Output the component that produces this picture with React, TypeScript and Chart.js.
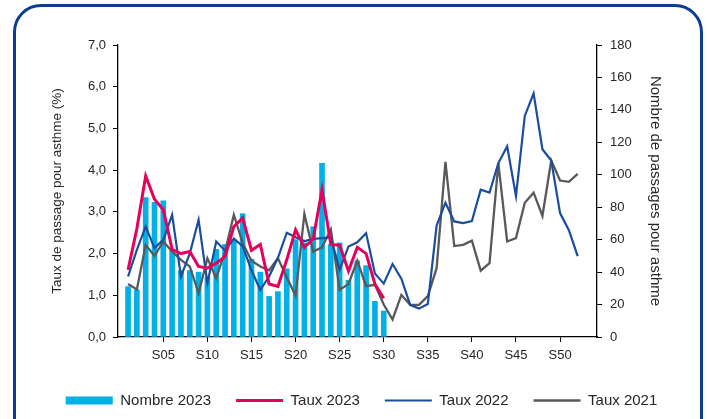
import React, { useEffect, useRef } from 'react';
import { Chart, registerables } from 'chart.js';

Chart.register(...registerables);

// Weeks S01..S52
const weeks = [
  1, 2, 3, 4, 5, 6, 7, 8, 9, 10, 11, 12, 13, 14, 15, 16, 17, 18, 19, 20, 21, 22, 23, 24, 25, 26,
  27, 28, 29, 30, 31, 32, 33, 34, 35, 36, 37, 38, 39, 40, 41, 42, 43, 44, 45, 46, 47, 48, 49, 50, 51, 52,
];
const xTickWeeks = [5, 10, 15, 20, 25, 30, 35, 40, 45, 50];
const xTickLabels = ['S05', 'S10', 'S15', 'S20', 'S25', 'S30', 'S35', 'S40', 'S45', 'S50'];

// Nombre de passages 2023 (right axis), S01..S30
const nombre2023 = [
  31, 29, 86, 83, 84, 54, 41, 41, 40, 37, 54, 57, 60, 76, 48, 40, 25, 28, 42, 60, 58, 68, 107, 57, 58,
  35, 47, 44, 22, 16,
];
// Taux (left axis, %)
const taux2023 = [
  1.61, 2.6, 3.86, 3.3, 3.05, 2.1, 2.0, 2.05, 1.69, 1.65, 1.77, 1.93, 2.65, 2.85, 2.08, 2.22, 1.27, 1.21,
  1.85, 2.57, 2.15, 2.35, 3.53, 2.22, 2.2, 1.58, 2.15, 2.0, 1.27, 0.93,
];
const taux2022 = [
  1.45, 2.09, 2.65, 2.13, 2.33, 2.93, 1.45, 2.0, 2.81, 1.29, 2.29, 2.07, 2.36, 2.18, 1.6, 1.13, 1.45, 1.9,
  2.5, 2.39, 2.3, 2.35, 2.37, 2.39, 1.61, 2.17, 2.27, 2.49, 1.52, 1.28, 1.75, 1.4, 0.77, 0.68, 0.79, 2.67,
  3.22, 2.77, 2.73, 2.78, 3.53, 3.46, 4.17, 4.57, 3.38, 5.3, 5.84, 4.5, 4.23, 2.97, 2.56, 1.94,
];
const taux2021 = [
  1.27, 1.14, 2.21, 1.94, 2.29, 2.05, 1.85, 1.69, 1.05, 1.89, 1.41, 2.05, 2.93, 2.25, 1.83, 1.69, 1.6, 1.89,
  1.43, 0.99, 2.95, 2.05, 2.15, 2.58, 1.13, 1.27, 1.83, 1.22, 1.25, 0.78, 0.42, 1.01, 0.77, 0.77, 0.98, 1.65,
  4.2, 2.18, 2.21, 2.31, 1.59, 1.77, 4.17, 2.29, 2.37, 3.22, 3.46, 2.9, 4.23, 3.75, 3.72, 3.91,
];

const FONT = 'Liberation Sans, Arial, sans-serif';
const TEXT = '#262626';

export default function App() {
  const canvasRef = useRef<HTMLCanvasElement>(null);

  useEffect(() => {
    const pts = (arr: number[]) => arr.map((v, i) => ({ x: weeks[i], y: v }));
    const chart = new Chart(canvasRef.current as HTMLCanvasElement, {
      type: 'bar',
      data: {
        datasets: [
          {
            type: 'bar',
            label: 'Nombre 2023',
            data: pts(nombre2023),
            backgroundColor: '#00b0e6',
            borderWidth: 0,
            barThickness: 5,
            yAxisID: 'y1',
            order: 4,
          } as any,
          {
            type: 'line',
            label: 'Taux 2023',
            data: pts(taux2023),
            borderColor: '#e4005b',
            backgroundColor: '#e4005b',
            borderWidth: 3,
            pointRadius: 0,
            tension: 0,
            yAxisID: 'y',
            order: 1,
          },
          {
            type: 'line',
            label: 'Taux 2022',
            data: pts(taux2022),
            borderColor: '#1a4d9e',
            backgroundColor: '#1a4d9e',
            borderWidth: 2.2,
            pointRadius: 0,
            tension: 0,
            yAxisID: 'y',
            order: 2,
          },
          {
            type: 'line',
            label: 'Taux 2021',
            data: pts(taux2021),
            borderColor: '#595959',
            backgroundColor: '#595959',
            borderWidth: 2.3,
            pointRadius: 0,
            tension: 0,
            yAxisID: 'y',
            order: 3,
          },
        ],
      },
      options: {
        responsive: false,
        animation: false,
        layout: { padding: { left: 16, right: 0, top: 45, bottom: 1 } },
        scales: {
          x: {
            type: 'linear',
            min: -0.14,
            max: 54.19,
            offset: false,
            afterBuildTicks: (s: any) => {
              s.ticks = xTickWeeks.map((v) => ({ value: v }));
            },
            afterFit: (s: any) => {
              s.height = 31;
            },
            ticks: {
              autoSkip: false,
              maxRotation: 0,
              padding: 6,
              color: TEXT,
              font: { family: FONT, size: 13 },
              callback: (v: any) => xTickLabels[xTickWeeks.indexOf(Number(v))] ?? '',
            },
            grid: { drawOnChartArea: false, offset: false, tickLength: 5, color: '#000', lineWidth: 1 },
            border: { display: true, color: '#000', width: 1.3 },
          },
          y: {
            type: 'linear',
            position: 'left',
            min: 0,
            max: 7,
            afterFit: (s: any) => {
              s.width = 102;
            },
            ticks: {
              stepSize: 1,
              padding: 7,
              color: TEXT,
              font: { family: FONT, size: 13 },
              callback: (v: any) => Number(v).toFixed(1).replace('.', ','),
            },
            grid: { drawOnChartArea: false, tickLength: 5, color: '#000', lineWidth: 1 },
            border: { display: true, color: '#000', width: 1.3 },
            title: {
              display: true,
              text: 'Taux de passage pour asthme (%)',
              color: TEXT,
              font: { family: FONT, size: 13.5 },
              padding: { top: 33, bottom: 0 },
            },
          },
          y1: {
            type: 'linear',
            position: 'right',
            min: 0,
            max: 180,
            afterFit: (s: any) => {
              s.width = 110;
            },
            ticks: {
              stepSize: 20,
              padding: 8,
              color: TEXT,
              font: { family: FONT, size: 13 },
            },
            grid: { drawOnChartArea: false, tickLength: 5, color: '#000', lineWidth: 1 },
            border: { display: true, color: '#000', width: 1.3 },
            title: {
              display: true,
              text: 'Nombre de passages pour asthme',
              color: TEXT,
              font: { family: FONT, size: 15 },
              padding: { top: 43, bottom: 0 },
            },
          },
        },
        plugins: {
          tooltip: { enabled: false },
          legend: {
            position: 'bottom',
            labels: {
              usePointStyle: true,
              pointStyleWidth: 47,
              boxHeight: 8,
              padding: 25,
              color: TEXT,
              font: { family: FONT, size: 15 },
              sort: (a: any, b: any) => a.datasetIndex - b.datasetIndex,
              generateLabels: (c: any) => {
                const items = (Chart.defaults.plugins.legend.labels as any).generateLabels(c);
                items.forEach((it: any) => {
                  it.pointStyle = it.datasetIndex === 0 ? 'rect' : 'line';
                });
                return items;
              },
            },
          },
        },
      } as any,
    });
    return () => chart.destroy();
  }, []);

  return (
    <div
      style={{
        position: 'fixed',
        left: 0,
        top: 0,
        width: 707,
        height: 419,
        background: '#fff',
        overflow: 'hidden',
      }}
    >
      <div
        style={{
          position: 'absolute',
          left: 13,
          top: 4,
          width: 684,
          height: 480,
          border: '3px solid #0b3d91',
          borderRadius: 28,
        }}
      />
      <canvas
        ref={canvasRef}
        width={707}
        height={419}
        style={{ position: 'absolute', left: 0, top: 0, width: 707, height: 419 }}
      />
    </div>
  );
}
